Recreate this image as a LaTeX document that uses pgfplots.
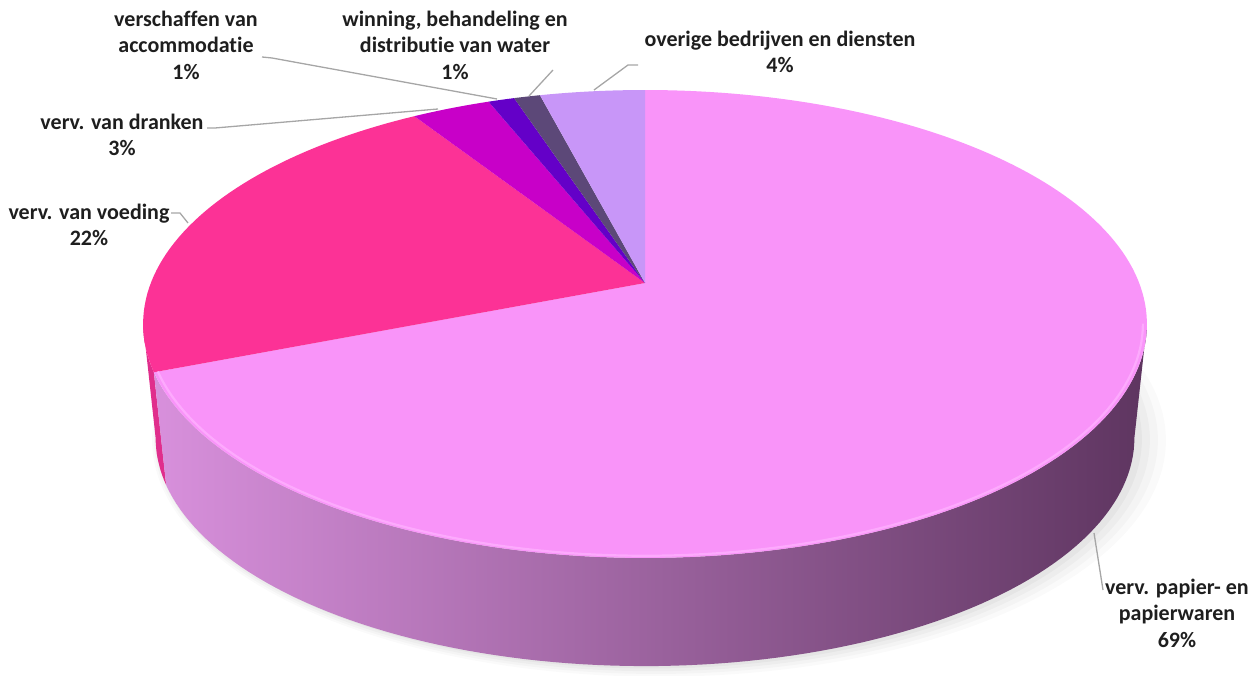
\documentclass[border=0pt]{standalone}
\usepackage{pgfplots}
\pgfplotsset{compat=1.18}
\usepackage{fontspec}
\setmainfont[Ligatures=NoCommon]{Carlito}

\definecolor{cPapier}{HTML}{F994F9}
\definecolor{cVoeding}{HTML}{FC3296}
\definecolor{cDranken}{HTML}{C800C8}
\definecolor{cAccom}{HTML}{6400C8}
\definecolor{cWater}{HTML}{5C4878}
\definecolor{cOverige}{HTML}{C896F8}
\definecolor{sideL}{HTML}{D890DC}
\definecolor{sideM}{HTML}{9C5CA0}
\definecolor{sideR}{HTML}{5E3560}
\definecolor{sideV}{HTML}{E02E8C}
\definecolor{rimP}{HTML}{FFB4FF}
\definecolor{leader}{HTML}{A6A6A6}
\definecolor{labeltext}{HTML}{1E1E1E}

% data (percent of total)
\def\vPapier{69}
\def\vVoeding{22}
\def\vDranken{3}
\def\vAccom{1}
\def\vWater{1}
\def\vOverige{4}

% geometry of the perspective pie (units = pixels of the reference)
\def\piek{0.1752}\def\pieA{494.2}\def\pieB{226.8}
\def\piecx{645}\def\piecy{392}
\def\pieD{115}\def\pieS{0.975}

% #1 macro, #2 start angle, #3 end angle, #4 scale, #5 dx, #6 dy
\newcommand\mkarc[6]{%
  \gdef#1{}%
  \pgfmathtruncatemacro\pieN{abs(#3-#2)/1.5+2}%
  \pgfmathsetmacro\pieStep{(#3-#2)/\pieN}%
  \foreach \ii in {0,...,\pieN}{%
    \pgfmathsetmacro\pieT{#2+\pieStep*\ii}%
    \pgfmathsetmacro\pieDen{1+\piek*cos(\pieT)}%
    \pgfmathsetmacro\pieX{\piecx+(#5)+(#4)*\pieA*sin(\pieT)/\pieDen}%
    \pgfmathsetmacro\pieY{\piecy+(#6)+(#4)*\pieB*cos(\pieT)/\pieDen}%
    \xdef#1{#1 (\pieX,\pieY)}%
  }%
}
\newcommand\topwedge[3]{%
  \mkarc\ptsW{#2}{#3}{1}{0}{0}%
  \edef\pieTmp{\noexpand\addplot[fill=#1, draw=none, forget plot] coordinates {(\piecx,\piecy)\ptsW};}%
  \pieTmp}
\newcommand\sidepiece[3]{%
  \mkarc\ptsT{#2}{#3}{1}{0}{0}%
  \mkarc\ptsB{#3}{#2}{\pieS}{0}{-\pieD}%
  \edef\pieTmp{\noexpand\addplot[#1, draw=none, forget plot] coordinates {\ptsT\ptsB};}%
  \pieTmp}
\newcommand\shadowlayer[3]{%
  \mkarc\ptsS{0}{360}{#1}{#2}{-\pieD-1}%
  \edef\pieTmp{\noexpand\addplot[fill=black, fill opacity=#3, draw=none, forget plot] coordinates {\ptsS};}%
  \pieTmp}

\begin{document}
\begin{tikzpicture}
\pgfmathsetmacro\aA{\vPapier*3.6}
\pgfmathsetmacro\aB{\aA+\vVoeding*3.6}
\pgfmathsetmacro\aC{\aB+\vDranken*3.6}
\pgfmathsetmacro\aD{\aC+\vAccom*3.6}
\pgfmathsetmacro\aE{\aD+\vWater*3.6}
\pgfmathsetmacro\aF{\aE+\vOverige*3.6}
\pgfmathsetmacro\tanR{acos(-\piek)}
\pgfmathsetmacro\tanL{360-\tanR}
\begin{axis}[at={(0,0)}, anchor=south west, width=626.5pt, height=337.5pt,
  scale only axis, xmin=0, xmax=1253, ymin=0, ymax=675, axis lines=none, clip=false]
  % soft shadow
  \shadowlayer{1.01}{14}{0.018}
  \shadowlayer{1.0}{11}{0.022}
  \shadowlayer{0.99}{8}{0.028}
  \shadowlayer{0.98}{5}{0.035}
  % sides
  \sidepiece{fill=sideV}{\aA}{\tanL}
  \sidepiece{left color=sideL, middle color=sideM, right color=sideR}{\tanR}{\aA}
  % top faces
  \topwedge{cPapier}{0}{\aA}
  \topwedge{cVoeding}{\aA}{\aB}
  \topwedge{cDranken}{\aB}{\aC}
  \topwedge{cAccom}{\aC}{\aD}
  \topwedge{cWater}{\aD}{\aE}
  \topwedge{cOverige}{\aE}{\aF}
  % rim highlight
  \mkarc\ptsH{\tanR}{\aA}{0.992}{0}{0}
  \edef\pieTmp{\noexpand\addplot[draw=rimP, line width=1.1pt, opacity=0.7, forget plot] coordinates {\ptsH};}\pieTmp
  % leader lines
  \addplot[leader, line width=0.65pt, forget plot] coordinates {(262,618) (272,617) (497,576)};
  \addplot[leader, line width=0.65pt, forget plot] coordinates {(207,547) (215,547) (438,566)};
  \addplot[leader, line width=0.65pt, forget plot] coordinates {(553,605) (529,579)};
  \addplot[leader, line width=0.65pt, forget plot] coordinates {(638,610) (628,610) (594,585)};
  \addplot[leader, line width=0.65pt, forget plot] coordinates {(171,462) (180,462) (188,452)};
  \addplot[leader, line width=0.65pt, forget plot] coordinates {(1094,142) (1103,85)};
  % labels
  \tikzset{lbl/.style={font=\fontsize{11}{13.3}\selectfont\bfseries, text=labeltext, align=center, inner sep=0pt}}
  \node[lbl] at (axis cs:186,630) {verschaffen van\\accommodatie\\1\%};
  \node[lbl] at (axis cs:455,630) {winning, behandeling en\\distributie van water\\1\%};
  \node[lbl] at (axis cs:780,623) {overige bedrijven en diensten\\4\%};
  \node[lbl] at (axis cs:122,540) {verv. van dranken\\3\%};
  \node[lbl] at (axis cs:89,450) {verv. van voeding\\22\%};
  \node[lbl] at (axis cs:1177,62) {verv. papier- en\\papierwaren\\69\%};
\end{axis}
\pgfresetboundingbox
\path[use as bounding box] (0,0) rectangle (626.5pt,337.5pt);
\end{tikzpicture}
\end{document}
